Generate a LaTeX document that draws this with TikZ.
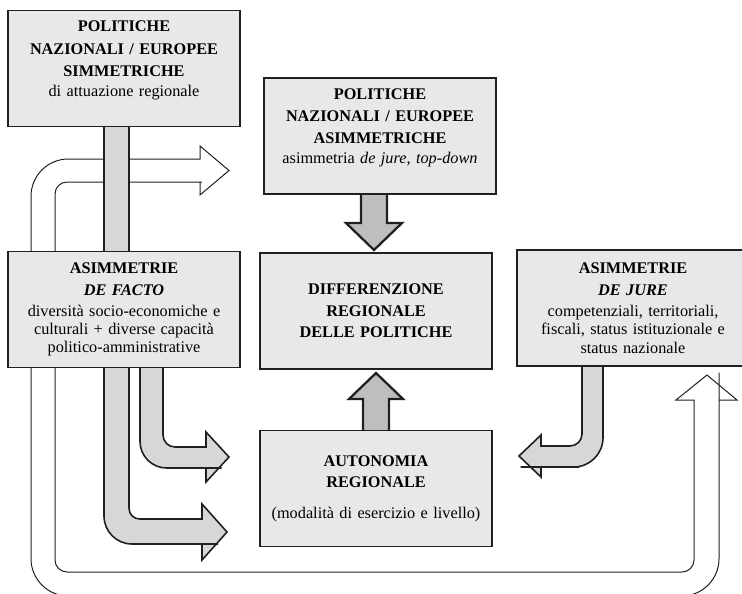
\documentclass[tikz,border=0pt]{standalone}
\usepackage{fontspec}
\setmainfont{Liberation Serif}
\usepackage{tikz}

\definecolor{linegray}{HTML}{231F20}
\definecolor{boxfill}{HTML}{E7E8E9}
\definecolor{bendfill}{HTML}{D6D7D9}
\definecolor{stubfill}{HTML}{BDBEC0}

\tikzset{
  box/.style={draw=linegray, line width=1.3pt, fill=boxfill,
    minimum width=174pt, minimum height=87pt, text width=170pt,
    inner xsep=2pt, align=center, font=\fontsize{12.2}{13.6}\selectfont},
  mainbox/.style={box, line width=2.2pt},
  bendarrow/.style={draw=linegray, line width=1.2pt, fill=bendfill},
  stubarrow/.style={draw=linegray, line width=1.7pt, fill=stubfill},
  looparrow/.style={draw=linegray, line width=0.75pt, fill=white}
}

\begin{document}
\begin{tikzpicture}[x=0.75pt, y=-0.75pt]
\useasboundingbox (0,0) rectangle (742,593);

% hollow loop, behind everything
\draw[looparrow] (229,170.5) -- (200,146) -- (200,159) -- (190,159)
  [rounded corners=28pt] -- (31,159) -- (31,596) -- (719,596) -- (719,410)
  [sharp corners] -- (719,400) -- (737,400) -- (707,375) -- (676,400) -- (694,400) -- (694,410)
  [rounded corners=9pt] -- (694,572) -- (55,572) -- (55,182) -- (190,182)
  [sharp corners] -- (200,182) -- (200,195) -- cycle;

% long bar from the top box down to the autonomy box
\draw[bendarrow] (104,120) -- (104,130)
  [rounded corners=21pt] -- (104,544) -- (190,544)
  [sharp corners] -- (202,544) -- (202,560) -- (227,532) -- (202,504) -- (202,519) -- (190,519)
  [rounded corners=8pt] -- (129,519) -- (129,130)
  [sharp corners] -- (129,120) -- cycle;

% de facto -> autonomia
\draw[bendarrow] (140,360) -- (140,370)
  [rounded corners=20pt] -- (140,468) -- (195,468)
  [sharp corners] -- (206,468) -- (206,482) -- (229,457) -- (206,432) -- (206,447) -- (195,447)
  [rounded corners=9pt] -- (163,447) -- (163,370)
  [sharp corners] -- (163,360) -- cycle;

% de jure -> autonomia
\draw[bendarrow] (603,360) -- (603,370)
  [rounded corners=22pt] -- (603,467) -- (550,467)
  [sharp corners] -- (541,467) -- (541,477) -- (519,456) -- (541,435) -- (541,446) -- (550,446)
  [rounded corners=9pt] -- (582,446) -- (582,370)
  [sharp corners] -- (582,360) -- cycle;

% short arrows into the central box
\draw[stubarrow] (361,185) -- (361,223) -- (346,223) -- (374,250) -- (402,223) -- (387,223) -- (387,185) -- cycle;
\draw[stubarrow] (363,440) -- (363,399) -- (349,399) -- (376,373) -- (403,399) -- (389,399) -- (389,440) -- cycle;

\node[box] (polsym) at (124,68.5) {\textbf{POLITICHE}\\[3.4pt]
  \textbf{NAZIONALI / EUROPEE}\\[3pt] \textbf{SIMMETRICHE}\\[1.4pt]
  di attuazione regionale\\[1pt]\mbox{}};
\node[box] (polasym) at (380,136) {\textbf{POLITICHE}\\[3pt]
  \textbf{NAZIONALI / EUROPEE}\\[3pt] \textbf{ASIMMETRICHE}\\[1.4pt]
  asimmetria \textit{de jure, top-down}\\[1pt]\mbox{}};
\node[mainbox] (diffreg) at (376,311) {\textbf{DIFFERENZIONE}\\[2.5pt]
  \textbf{REGIONALE}\\[2.5pt] \textbf{DELLE POLITICHE}};
\node[box] (asimjure) at (633,308) {\textbf{ASIMMETRIE}\\[3pt]
  \textbf{\textit{DE JURE}}\\[2.2pt] competenziali, territoriali,\\
  fiscali, status istituzionale e\\ status nazionale};
\node[box] (asimfacto) at (124,309.5) {\textbf{ASIMMETRIE}\\[3pt]
  \textbf{\textit{DE FACTO}}\\[2.2pt] diversità socio-economiche e\\
  culturali + diverse capacità\\ politico-amministrative};
\node[box] (autreg) at (376,488.5) {\textbf{AUTONOMIA}\\[2.1pt]
  \textbf{REGIONALE}\\[9.6pt] (modalità di esercizio e livello)};

\end{tikzpicture}
\end{document}
